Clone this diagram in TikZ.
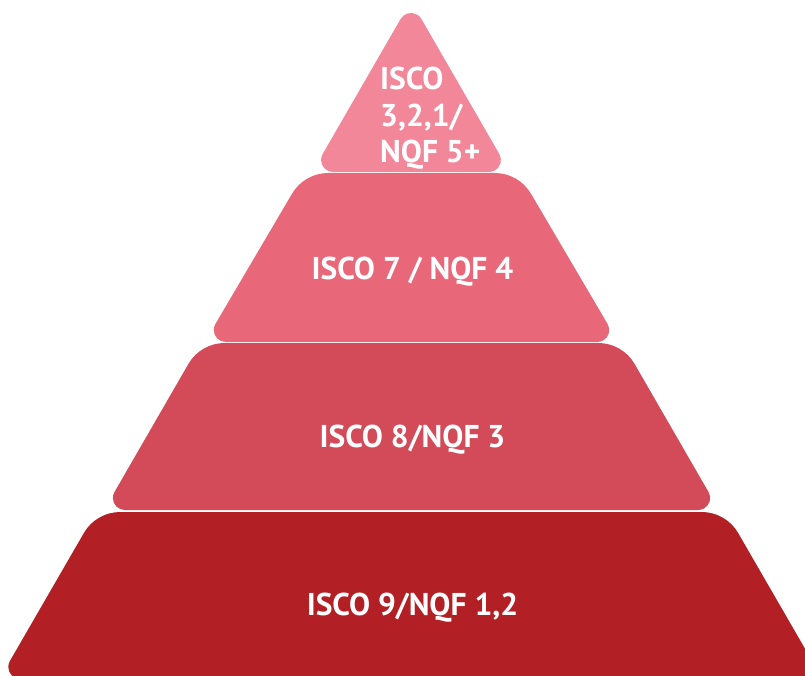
\documentclass[tikz,border=0pt]{standalone}
\usepackage{fontspec}
\setmainfont{PT Sans}
\definecolor{c1}{RGB}{242,135,153}
\definecolor{c2}{RGB}{232,104,122}
\definecolor{c3}{RGB}{211,75,88}
\definecolor{c4}{RGB}{178,31,36}
% #1 cx, #2 top y, #3 bottom y, #4 top half width, #5 bottom half width, #6 top radius, #7 bottom radius, #8 colour
\newcommand\layershape[8]{%
  \fill[#8] ({#1-#4-0.2887*#6},{#2-0.5*#6}) arc[start angle=150,end angle=90,radius=#6pt]
    -- ({#1+#4-0.5774*#6},#2) arc[start angle=90,end angle=30,radius=#6pt]
    -- ({#1+#5-0.866*#7},{#3+1.5*#7}) arc[start angle=30,end angle=-90,radius=#7pt]
    -- ({#1-#5+1.732*#7},#3) arc[start angle=-90,end angle=-210,radius=#7pt]
    -- cycle;}
% #1 cx, #2 apex y, #3 base y, #4 base half width, #5 apex radius, #6 base radius, #7 colour
\newcommand\topshape[7]{%
  \fill[#7] ({#1-0.866*#5},{#2-1.5*#5}) arc[start angle=150,end angle=30,radius=#5pt]
    -- ({#1+#4-0.866*#6},{#3+1.5*#6}) arc[start angle=30,end angle=-90,radius=#6pt]
    -- ({#1-#4+1.732*#6},#3) arc[start angle=-90,end angle=-210,radius=#6pt]
    -- cycle;}
\tikzset{lbl/.style={text=white,font=\bfseries\fontsize{31.5}{38}\selectfont,inner sep=0pt}}
\begin{document}
\begin{tikzpicture}[x=1pt,y=1pt]
\useasboundingbox (0,0) rectangle (805,675);
\begin{scope}
\clip (0,0) rectangle (805,675);
\layershape{411}{163}{-4}{315}{411.5}{42}{12}{c4}
\layershape{411.5}{332}{165}{211}{307.4}{42}{12}{c3}
\layershape{411.5}{502}{333}{107.5}{206.5}{42}{12}{c2}
\topshape{411}{674}{503}{98.7}{12}{12}{c1}
\end{scope}
\node[lbl,anchor=base west] (t1a) at (380,585) {ISCO};
\node[lbl,anchor=base west] (t1b) at (380,548) {3,2,1/};
\node[lbl,anchor=base west] (t1c) at (380,512) {NQF 5+};
\node[lbl,anchor=base] (t2) at (412.5,395) {ISCO 7 / NQF 4};
\node[lbl,anchor=base] (t3) at (412.5,228) {ISCO 8/NQF 3};
\node[lbl,anchor=base] (t4) at (412.5,60) {ISCO 9/NQF 1,2};
\end{tikzpicture}
\end{document}
